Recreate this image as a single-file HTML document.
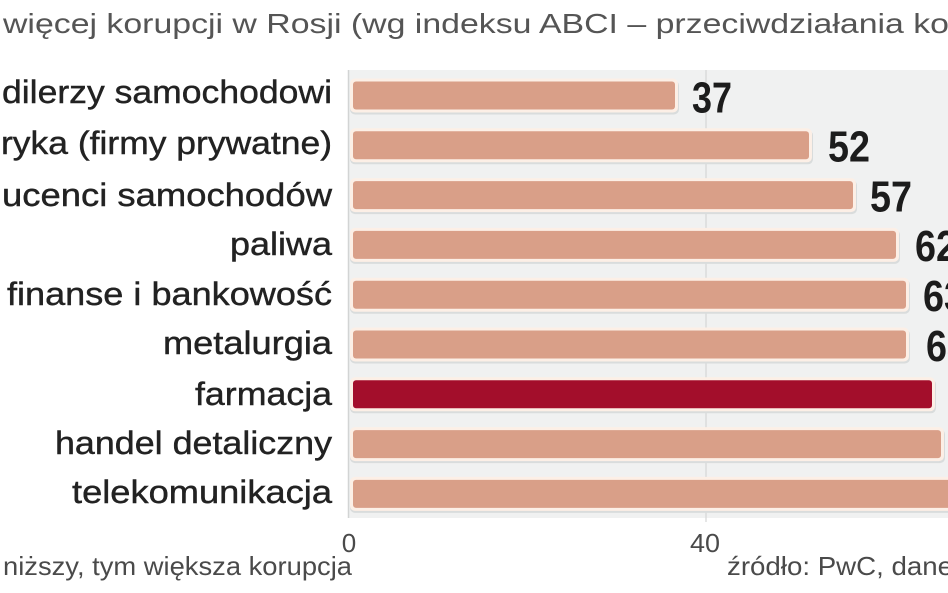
<!DOCTYPE html>
<html>
<head>
<meta charset="utf-8">
<style>
html,body{margin:0;padding:0;background:#fff;}
svg{display:block;}
.lbl{font-family:"Liberation Sans","DejaVu Sans",sans-serif;font-size:32px;fill:#222;stroke:#222;stroke-width:0.4px;}
.num{font-family:"Liberation Sans Narrow","Liberation Sans",sans-serif;font-weight:bold;font-size:44px;fill:#1c1c1c;}
.ttl{font-family:"Liberation Sans","DejaVu Sans",sans-serif;font-size:28px;fill:#555;}
.small{font-family:"Liberation Sans","DejaVu Sans",sans-serif;font-size:26px;fill:#4a4a4a;}
</style>
</head>
<body>
<svg width="948" height="593" viewBox="0 0 948 593" xmlns="http://www.w3.org/2000/svg">
  <rect x="0" y="0" width="948" height="593" fill="#ffffff"/>
  <text class="ttl" x="3" y="33" textLength="946" lengthAdjust="spacingAndGlyphs">więcej korupcji w Rosji (wg indeksu ABCI – przeciwdziałania ko</text>

  <rect x="348" y="70" width="600" height="448" fill="#f0f1f1"/>
  <line x1="348.5" y1="70" x2="348.5" y2="518" stroke="#d2d4d4" stroke-width="1.5"/>
  <line x1="706" y1="70" x2="706" y2="522" stroke="#d4d6d6" stroke-width="1.2"/>

  <g>
    <rect x="350" y="80.5" width="329" height="34" rx="5" fill="#d9dcdc"/>
    <rect x="350" y="78.5" width="328" height="34" rx="5" fill="#fcefe6"/>
    <rect x="353" y="81.5" width="322" height="28" rx="3" fill="#d99f88"/>
    <rect x="350" y="130.3" width="463" height="34" rx="5" fill="#d9dcdc"/>
    <rect x="350" y="128.3" width="462" height="34" rx="5" fill="#fcefe6"/>
    <rect x="353" y="131.3" width="456" height="28" rx="3" fill="#d99f88"/>
    <rect x="350" y="180.1" width="507" height="34" rx="5" fill="#d9dcdc"/>
    <rect x="350" y="178.1" width="506" height="34" rx="5" fill="#fcefe6"/>
    <rect x="353" y="181.1" width="500" height="28" rx="3" fill="#d99f88"/>
    <rect x="350" y="229.9" width="550" height="34" rx="5" fill="#d9dcdc"/>
    <rect x="350" y="227.9" width="549" height="34" rx="5" fill="#fcefe6"/>
    <rect x="353" y="230.9" width="543" height="28" rx="3" fill="#d99f88"/>
    <rect x="350" y="279.7" width="560" height="34" rx="5" fill="#d9dcdc"/>
    <rect x="350" y="277.7" width="559" height="34" rx="5" fill="#fcefe6"/>
    <rect x="353" y="280.7" width="553" height="28" rx="3" fill="#d99f88"/>
    <rect x="350" y="329.5" width="560" height="34" rx="5" fill="#d9dcdc"/>
    <rect x="350" y="327.5" width="559" height="34" rx="5" fill="#fcefe6"/>
    <rect x="353" y="330.5" width="553" height="28" rx="3" fill="#d99f88"/>
    <rect x="350" y="379.3" width="586" height="34" rx="5" fill="#d9dcdc"/>
    <rect x="350" y="377.3" width="585" height="34" rx="5" fill="#fcefe6"/>
    <rect x="353" y="380.3" width="579" height="28" rx="3" fill="#a30e2b"/>
    <rect x="350" y="429.1" width="595" height="34" rx="5" fill="#d9dcdc"/>
    <rect x="350" y="427.1" width="594" height="34" rx="5" fill="#fcefe6"/>
    <rect x="353" y="430.1" width="588" height="28" rx="3" fill="#d99f88"/>
    <rect x="350" y="478.9" width="620" height="34" rx="5" fill="#d9dcdc"/>
    <rect x="350" y="476.9" width="620" height="34" rx="5" fill="#fcefe6"/>
    <rect x="353" y="479.9" width="614" height="28" rx="3" fill="#d99f88"/>
  </g>

  <text class="lbl" x="2" y="103" textLength="330" lengthAdjust="spacingAndGlyphs">dilerzy samochodowi</text>
  <text class="lbl" x="1" y="154" textLength="331" lengthAdjust="spacingAndGlyphs">ryka (firmy prywatne)</text>
  <text class="lbl" x="2" y="206" textLength="330" lengthAdjust="spacingAndGlyphs">ucenci samochodów</text>
  <text class="lbl" x="230" y="255" textLength="102" lengthAdjust="spacingAndGlyphs">paliwa</text>
  <text class="lbl" x="7" y="305" textLength="325" lengthAdjust="spacingAndGlyphs">finanse i bankowość</text>
  <text class="lbl" x="163" y="354" textLength="169" lengthAdjust="spacingAndGlyphs">metalurgia</text>
  <text class="lbl" x="195" y="405" textLength="137" lengthAdjust="spacingAndGlyphs">farmacja</text>
  <text class="lbl" x="55" y="454" textLength="277" lengthAdjust="spacingAndGlyphs">handel detaliczny</text>
  <text class="lbl" x="72" y="503" textLength="260" lengthAdjust="spacingAndGlyphs">telekomunikacja</text>

  <text class="num" x="692" y="112.5" textLength="40" lengthAdjust="spacingAndGlyphs">37</text>
  <text class="num" x="828" y="161.5" textLength="42" lengthAdjust="spacingAndGlyphs">52</text>
  <text class="num" x="870" y="211.5" textLength="42" lengthAdjust="spacingAndGlyphs">57</text>
  <text class="num" x="915" y="261" textLength="42" lengthAdjust="spacingAndGlyphs">62</text>
  <text class="num" x="923" y="311" textLength="42" lengthAdjust="spacingAndGlyphs">63</text>
  <text class="num" x="926" y="361" textLength="42" lengthAdjust="spacingAndGlyphs">63</text>

  <text class="small" x="349" y="552" text-anchor="middle" fill="#555">0</text>
  <text class="small" x="690" y="552" textLength="30" lengthAdjust="spacingAndGlyphs" fill="#555">40</text>

  <text class="small" x="3" y="575" textLength="349" lengthAdjust="spacingAndGlyphs">niższy, tym większa korupcja</text>
  <text class="small" x="727" y="575" textLength="226" lengthAdjust="spacingAndGlyphs">źródło:  PwC, dane</text>
</svg>
</body>
</html>
